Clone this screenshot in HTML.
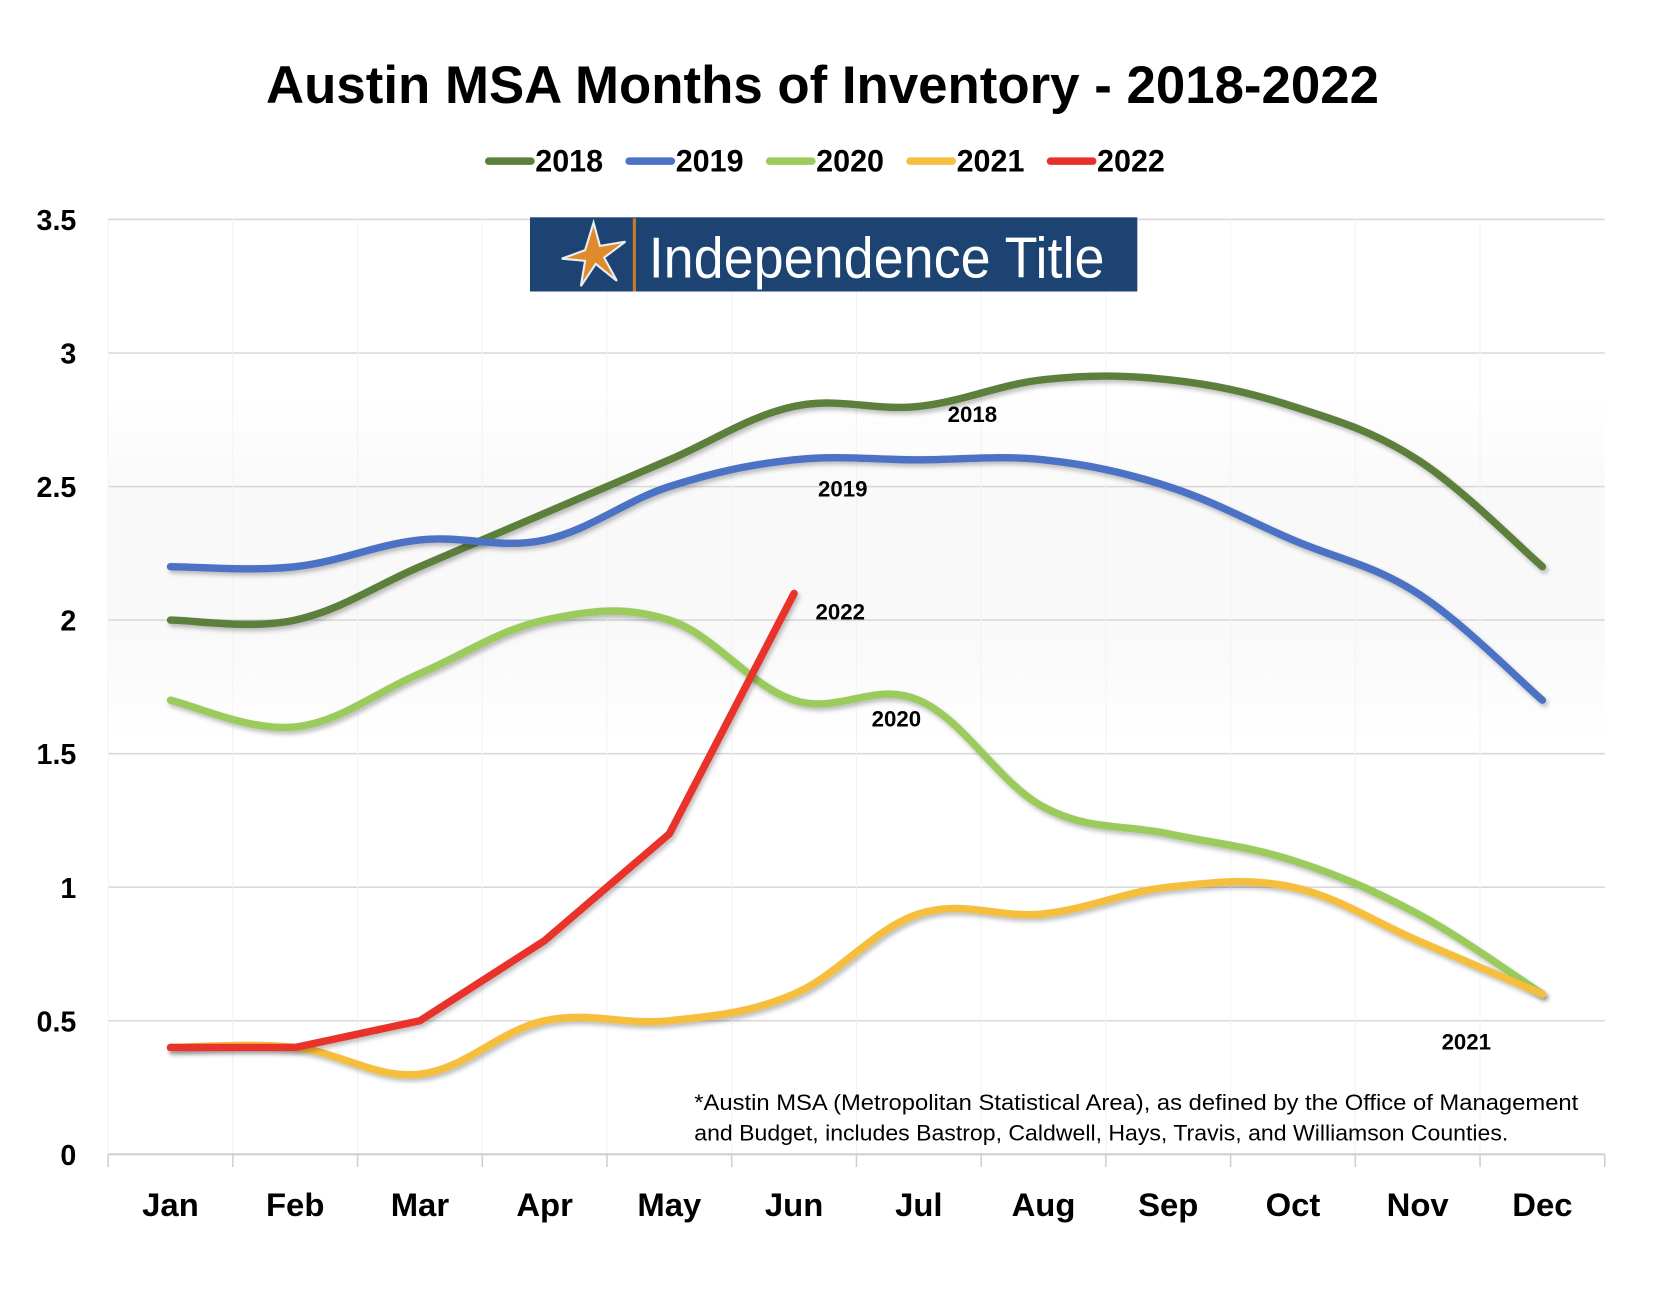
<!DOCTYPE html>
<html><head><meta charset="utf-8"><style>
html,body{margin:0;padding:0;background:#fff;}
svg{display:block;}
text{font-family:"Liberation Sans Narrow","Liberation Sans",sans-serif;}
</style></head><body>
<svg id="chart" width="1662" height="1290" viewBox="0 0 1568 1217" xmlns="http://www.w3.org/2000/svg">
<defs>
<linearGradient id="band" x1="0" y1="0" x2="0" y2="1">
<stop offset="0" stop-color="#fff"/><stop offset="0.3" stop-color="#f9f9f9"/><stop offset="0.7" stop-color="#f9f9f9"/><stop offset="1" stop-color="#fff"/>
</linearGradient>
<filter id="sh" x="-5%" y="-5%" width="110%" height="110%"><feDropShadow dx="2" dy="3" stdDeviation="2" flood-color="#000" flood-opacity="0.25"/></filter>
</defs>
<text x="251" y="97" font-size="50" font-weight="bold" textLength="1050" lengthAdjust="spacingAndGlyphs">Austin MSA Months of Inventory - 2018-2022</text>
<g id="legend"></g>
<rect x="102" y="370" width="1412" height="330" fill="url(#band)"/>
<g id="grid"></g>
<g>
<rect x="500" y="205" width="573" height="70" fill="#1c4371"/>
<line x1="598.5" y1="206" x2="598.5" y2="275" stroke="#c8782e" stroke-width="3"/>
<polygon points="560,210 566,232 590,228 570,243 582,265 562,249 548,270 552,246 530,244 552,236" fill="#e08a2c" stroke="#e8eef6" stroke-width="2"/>
<text x="612" y="262" font-size="54" fill="#fff" textLength="430" lengthAdjust="spacingAndGlyphs" style="font-weight:normal">Independence Title</text>
</g>
<g id="series"></g>
<g id="labels"></g>
<text x="655" y="1047" font-size="21" textLength="834" lengthAdjust="spacingAndGlyphs">*Austin MSA (Metropolitan Statistical Area), as defined by the Office of Management</text>
<text x="655" y="1076" font-size="21" textLength="768" lengthAdjust="spacingAndGlyphs">and Budget, includes Bastrop, Caldwell, Hays, Travis, and Williamson Counties.</text>
</svg>
<script>
const months = ["Jan","Feb","Mar","Apr","May","Jun","Jul","Aug","Sep","Oct","Nov","Dec"];
const yTicks = [0,0.5,1,1.5,2,2.5,3,3.5];
const yTickLabels = ["0","0.5","1","1.5","2","2.5","3","3.5"];
const seriesNames = ["2018","2019","2020","2021","2022"];
const colors = ["#5b803b","#4b72c4","#9acb5c","#f5be3e","#e8302a"];
const v2018 = [2.0,2.0,2.2,2.4,2.6,2.8,2.8,2.9,2.9,2.8,2.6,2.2];
const v2019 = [2.2,2.2,2.3,2.3,2.5,2.6,2.6,2.6,2.5,2.3,2.1,1.7];
const v2020 = [1.7,1.6,1.8,2.0,2.0,1.7,1.7,1.3,1.2,1.1,0.9,0.6];
const v2021 = [0.4,0.4,0.3,0.5,0.5,0.6,0.9,0.9,1.0,1.0,0.8,0.6];
const v2022 = [0.4,0.4,0.5,0.8,1.2,2.1];
const values = [v2018,v2019,v2020,v2021,v2022];
const smooth = [true,true,true,true,false];
const labelMonth = [6.43,5.39,5.82,10.39,5.37];
const labelVal = [2.77,2.49,1.63,0.42,2.03];

const NS="http://www.w3.org/2000/svg";
const x0=102,x1=1514,yBase=1089,yTop=207,ymax=3.5;
const step=(x1-x0)/months.length;
function xs(i){return x0+step*(i+0.5);}
function ys(v){return yBase-(yBase-yTop)*v/ymax;}
function mk(tag,attrs,parent){const e=document.createElementNS(NS,tag);for(const k in attrs)e.setAttribute(k,attrs[k]);parent.appendChild(e);return e;}

const grid=document.getElementById('grid');
yTicks.forEach((t,i)=>{
  if(t>0){const l=mk('line',{x1:x0,x2:x1,y1:ys(t),y2:ys(t),stroke:'#d9d9d9','stroke-width':1.5},grid);
  
  }
  const tx=mk('text',{x:72,y:ys(t)+10,'font-size':27,'font-weight':'bold','text-anchor':'end'},grid);
  tx.textContent=yTickLabels[i];
  
  
});
for(let i=0;i<=months.length;i++){
  const tk=mk('line',{x1:x0+step*i,x2:x0+step*i,y1:yBase,y2:yBase+12,stroke:'#d0d0d0','stroke-width':1.5},grid);
  
  
  if(i<months.length){const vl=mk('line',{x1:x0+step*i,x2:x0+step*i,y1:yTop,y2:yBase,stroke:'#f3f3f3','stroke-width':1},grid);
  
  }
}
const ax=mk('line',{x1:x0,x2:x1,y1:yBase,y2:yBase,stroke:'#d0d0d0','stroke-width':2},grid);


months.forEach((m,i)=>{
  const t=mk('text',{x:xs(i),y:1147,'font-size':31,'font-weight':'bold','text-anchor':'middle'},grid);
  t.textContent=m;
  
  
});

function pathFor(vals,sm){
  const p=vals.map((v,i)=>[xs(i),ys(v)]);
  let d='M'+p[0][0]+','+p[0][1];
  for(let i=0;i<p.length-1;i++){
    if(!sm){d+=' L'+p[i+1][0]+','+p[i+1][1];continue;}
    const a=p[i-1]||p[i],b=p[i],c=p[i+1],e=p[i+2]||p[i+1],k=0.18;
    d+=' C'+(b[0]+(c[0]-a[0])*k)+','+(b[1]+(c[1]-a[1])*k)+' '+(c[0]-(e[0]-b[0])*k)+','+(c[1]-(e[1]-b[1])*k)+' '+c[0]+','+c[1];
  }
  return d;
}
const sg=document.getElementById('series'),lg=document.getElementById('labels'),leg=document.getElementById('legend');
[0,1,2,3,4].forEach(s=>{
  const p=mk('path',{d:pathFor(values[s],smooth[s]),fill:'none',stroke:colors[s],'stroke-width':7,'stroke-linecap':'round','stroke-linejoin':'round',filter:'url(#sh)'},sg);
  
  
  const lbx=x0+step*(labelMonth[s]+0.5);
  const t=mk('text',{x:lbx,y:ys(labelVal[s])+7,'font-size':21,'font-weight':'bold','text-anchor':'middle'},lg);
  t.textContent=seriesNames[s];
  
  
  const lx=458+132.5*s;
  const g=mk('g',{},leg);
  
  
  mk('line',{x1:lx+3,x2:lx+43,y1:152,y2:152,stroke:colors[s],'stroke-width':7,'stroke-linecap':'round'},g);
  const lt=mk('text',{x:lx+47,y:162,'font-size':30,'font-weight':'bold',textLength:64,lengthAdjust:'spacingAndGlyphs'},g);
  lt.textContent=seriesNames[s];
});
</script>
</body></html>
